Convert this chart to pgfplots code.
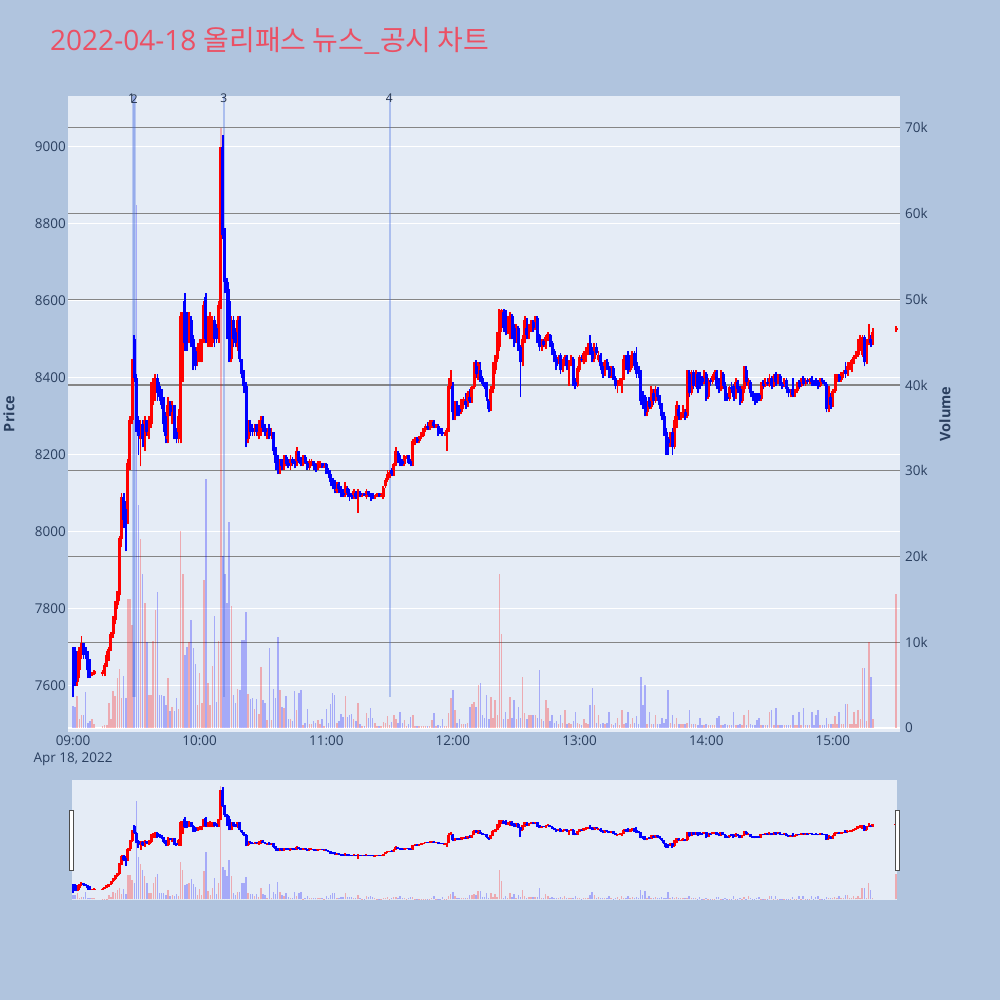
\documentclass[border=0pt]{standalone}
\usepackage{pgfplots}
\usepackage{pgfplotstable}
\pgfplotsset{compat=1.18}
\usepackage{fontspec}
\setmainfont{Open Sans}
\newfontfamily\cjk{Noto Sans CJK KR}
\definecolor{bgc}{HTML}{B0C4DE}
\definecolor{plotbg}{HTML}{E5ECF6}
\definecolor{fontc}{HTML}{2A3F5F}
\definecolor{gridgray}{HTML}{858585}
\definecolor{titlec}{RGB}{235,80,100}
\definecolor{newsc}{RGB}{65,105,225}

\pgfplotstableread{
t o h l c v
0 7700 7700 7570 7620 2.6
1 7690 7700 7600 7610 2.4
2 7610 7690 7600 7680 3.7
3 7640 7700 7620 7690 1.0
4 7680 7730 7670 7710 1.5
5 7710 7710 7670 7680 1.5
6 7700 7700 7670 7680 4.2
7 7680 7690 7620 7640 0.6
8 7660 7670 7620 7630 0.8
9 7630 7636 7626 7635 1.0
10 7630 7640 7628 7638 0.5
14 7630 7640 7625 7636 0.2
15 7630 7660 7625 7655 0.3
16 7655 7690 7650 7680 0.4
17 7675 7700 7665 7695 2.9
18 7700 7740 7690 7735 1.1
19 7735 7780 7725 7770 4.3
20 7770 7820 7760 7810 3.7
21 7810 7845 7800 7835 5.8
22 7835 7990 7820 7985 6.9
23 7980 8100 7960 8090 3.5
24 8090 8100 8010 8030 6.1
25 8060 8080 7950 8020 3.5
26 8030 8190 8020 8180 15
27 8180 8300 8160 8290 15
28 8290 8450 8280 8450 12
29 8500 8510 8390 8400 10
30 8400 8410 8260 8280 61
31 8290 8300 8200 8250 26
32 8240 8290 8170 8280 22
33 8280 8290 8220 8240 18
34 8240 8300 8210 8290 14.6
35 8290 8290 8250 8260 10
36 8250 8300 8240 8280 3.8
37 8280 8390 8270 8380 3.8
38 8340 8400 8330 8380 10.2
39 8370 8410 8340 8400 13.7
40 8400 8410 8340 8360 15.9
41 8380 8390 8340 8350 3.8
42 8360 8370 8320 8330 3.8
43 8340 8350 8260 8280 3.7
44 8300 8310 8230 8250 2.7
45 8240 8350 8230 8330 5.8
46 8330 8340 8300 8310 2.0
47 8300 8340 8280 8330 2.5
48 8330 8330 8240 8250 2.0
49 8260 8270 8230 8240 3.5
50 8240 8320 8230 8300 2.2
51 8240 8570 8230 8560 23
52 8400 8570 8390 8550 18
53 8600 8620 8470 8490 8.5
54 8560 8570 8470 8500 9.4
55 8500 8570 8490 8550 10
56 8550 8560 8480 8500 12.6
57 8500 8510 8420 8440 9.3
58 8470 8480 8420 8430 7.5
59 8440 8490 8430 8480 2.7
60 8450 8500 8440 8490 6.4
61 8470 8500 8440 8500 2.9
62 8500 8600 8490 8590 17.3
63 8610 8620 8490 8500 29
64 8490 8560 8480 8550 5.2
65 8500 8570 8480 8530 2.7
66 8490 8560 8480 8540 7.2
67 8550 8560 8480 8500 13
68 8530 8540 8490 8500 3
69 8500 8600 8490 8590 10.2
70 8590 9000 8580 9000 70
71 9000 9030 8760 8770 20
72 8780 8790 8620 8650 18
73 8650 8660 8500 8520 14.6
74 8600 8630 8440 8450 24
75 8450 8560 8440 8550 14.2
76 8550 8560 8480 8500 3.8
77 8520 8530 8480 8490 2.9
78 8480 8560 8470 8550 4.5
79 8550 8560 8440 8450 4.4
80 8440 8450 8400 8410 10.3
81 8410 8420 8360 8380 10.3
82 8380 8390 8220 8240 13.5
83 8240 8290 8230 8280 4
84 8280 8290 8250 8260 3.4
85 8270 8280 8250 8260 3.5
86 8260 8280 8250 8270 2.2
87 8280 8280 8250 8260 3.4
88 8250 8290 8240 8280 1.6
89 8260 8300 8250 8290 7.1
90 8290 8300 8260 8270 3.3
91 8270 8280 8250 8260 2.9
92 8250 8270 8240 8265 0.9
93 8270 8280 8240 8250 9.3
94 8250 8270 8240 8260 0.9
95 8260 8260 8200 8210 4.6
96 8210 8220 8160 8180 3.5
97 8190 8200 8150 8160 10.6
98 8160 8190 8150 8180 4.4
99 8190 8190 8160 8170 2.5
100 8170 8200 8160 8190 2.3
101 8195 8200 8170 8175 3.7
102 8180 8190 8165 8170 1.1
103 8170 8200 8160 8190 1.0
104 8190 8195 8170 8180 0.8
105 8185 8190 8165 8175 4.3
106 8180 8220 8170 8210 2.1
107 8210 8210 8180 8185 4.1
108 8190 8195 8170 8175 4.4
109 8175 8200 8170 8195 0.3
110 8195 8200 8175 8180 0.6
111 8180 8185 8160 8165 2.2
112 8165 8190 8160 8185 0.5
113 8175 8190 8170 8185 0.5
114 8185 8185 8160 8170 0.8
115 8175 8180 8155 8165 0.6
116 8165 8185 8160 8180 0.9
117 8170 8185 8165 8180 0.5
118 8180 8180 8165 8170 1.0
119 8170 8180 8165 8175 0.2
120 8175 8180 8150 8160 2.2
121 8160 8165 8140 8150 0.6
122 8150 8160 8120 8130 2.8
123 8135 8140 8110 8120 4.1
124 8130 8135 8100 8110 3.8
125 8105 8130 8100 8125 0.6
126 8125 8130 8100 8110 0.8
127 8110 8120 8090 8100 1.6
128 8100 8110 8090 8095 1.3
129 8095 8130 8090 8120 3.7
130 8115 8120 8090 8100 1.3
131 8100 8110 8080 8090 1.5
132 8095 8100 8085 8090 1.6
133 8090 8110 8085 8105 1.0
134 8100 8105 8085 8090 0.8
135 8090 8110 8050 8100 2.9
136 8100 8105 8090 8095 0.5
137 8095 8100 8090 8098 0.2
138 8098 8100 8092 8095 0.2
139 8090 8110 8085 8105 1.7
140 8105 8105 8090 8095 1.2
141 8100 8100 8080 8090 2.3
142 8095 8100 8085 8090 1.2
143 8090 8095 8085 8092 0.6
144 8092 8100 8090 8098 0.2
145 8098 8100 8090 8095 0.2
146 8095 8100 8090 8097 0.2
147 8090 8120 8085 8115 0.7
148 8120 8140 8115 8135 0.6
149 8135 8160 8130 8150 1.4
150 8150 8160 8140 8155 0.3
151 8160 8165 8145 8150 0.7
152 8150 8180 8145 8175 1.5
153 8175 8220 8170 8210 1.1
154 8205 8210 8180 8185 0.6
155 8190 8200 8170 8180 1.9
156 8185 8190 8170 8175 0.6
157 8175 8200 8170 8195 0.9
158 8195 8200 8190 8198 0.2
159 8200 8200 8175 8180 0.5
160 8185 8190 8170 8175 1.3
161 8175 8240 8170 8235 1.5
162 8235 8245 8225 8240 0.2
163 8240 8245 8230 8235 0.2
164 8235 8250 8230 8245 0.2
165 8245 8260 8240 8255 0.2
166 8250 8270 8245 8265 0.2
167 8265 8280 8260 8275 0.2
168 8275 8285 8265 8270 0.2
169 8270 8290 8265 8285 0.2
170 8280 8290 8270 8285 0.9
171 8285 8290 8270 8275 1.7
172 8275 8280 8270 8278 0.2
173 8275 8280 8250 8260 0.4
174 8265 8270 8255 8258 0.2
175 8260 8270 8250 8255 1.1
176 8255 8260 8250 8257 0.2
177 8250 8270 8210 8265 0.2
178 8265 8400 8260 8380 1.7
179 8380 8420 8370 8390 3.5
180 8380 8390 8290 8310 4.4
181 8310 8340 8290 8330 2.1
182 8330 8340 8300 8310 0.6
183 8320 8330 8300 8310 1.0
184 8310 8345 8305 8340 0.5
185 8330 8350 8320 8345 0.5
186 8340 8360 8320 8330 0.5
187 8330 8365 8325 8360 0.6
188 8350 8370 8335 8340 2.5
189 8340 8380 8335 8375 2.8
190 8375 8440 8370 8430 3.0
191 8430 8445 8400 8410 2.5
192 8400 8440 8395 8435 5
193 8420 8440 8390 8400 5.2
194 8400 8405 8380 8385 1.5
195 8385 8390 8370 8375 1.2
196 8380 8390 8340 8350 3.9
197 8340 8345 8310 8320 1.0
198 8320 8380 8315 8370 3.6
199 8370 8440 8360 8430 1.2
200 8420 8460 8410 8450 3.3
201 8450 8520 8440 8510 1.5
202 8480 8580 8470 8570 18
203 8540 8580 8520 8575 11
204 8570 8580 8520 8530 1.0
205 8570 8575 8510 8520 1.9
206 8520 8560 8515 8550 1.0
207 8540 8570 8500 8560 3.6
208 8560 8565 8500 8510 1.2
209 8530 8540 8480 8490 3.3
210 8500 8540 8490 8530 1.0
211 8530 8535 8470 8480 2.5
212 8480 8485 8350 8440 1.2
213 8440 8510 8430 8500 6
214 8500 8560 8490 8550 1.7
215 8530 8555 8500 8510 1.0
216 8510 8540 8500 8530 1.5
217 8530 8550 8520 8545 1.5
218 8545 8550 8520 8530 1.5
219 8530 8560 8525 8555 1.5
220 8555 8560 8490 8500 1.2
221 8510 8515 8470 8480 6.8
222 8480 8500 8470 8490 1.0
223 8495 8500 8480 8485 0.8
224 8480 8510 8475 8505 3.3
225 8500 8520 8495 8515 2.3
226 8510 8515 8480 8490 0.8
227 8490 8495 8460 8470 1.5
228 8470 8475 8440 8450 0.6
229 8450 8460 8420 8430 0.8
230 8440 8460 8435 8455 0.5
231 8460 8465 8410 8420 1.5
232 8420 8450 8415 8445 0.6
233 8440 8460 8430 8455 2.1
234 8455 8460 8420 8430 0.5
235 8430 8445 8380 8440 0.6
236 8440 8460 8430 8450 0.5
237 8450 8455 8380 8390 0.8
238 8390 8400 8370 8380 1.9
239 8380 8430 8375 8425 0.6
240 8420 8460 8415 8455 0.5
241 8450 8460 8440 8445 0.3
242 8440 8470 8435 8465 1.0
243 8460 8480 8440 8470 0.6
244 8470 8490 8460 8480 0.5
245 8490 8510 8460 8470 2.7
246 8470 8480 8440 8450 4.7
247 8450 8490 8440 8480 2.7
248 8480 8490 8460 8465 0.6
249 8445 8470 8440 8460 1.5
250 8460 8465 8420 8430 0.5
251 8430 8440 8400 8410 0.6
252 8410 8445 8405 8440 0.5
253 8440 8450 8420 8425 0.6
254 8425 8430 8400 8405 1.9
255 8405 8430 8400 8425 0.5
256 8425 8430 8395 8400 0.3
257 8400 8405 8370 8380 0.6
258 8380 8395 8360 8390 1.2
259 8390 8400 8380 8395 0.3
260 8380 8400 8360 8395 2.1
261 8400 8460 8395 8450 0.5
262 8450 8460 8420 8430 0.6
263 8460 8470 8410 8420 1.9
264 8420 8460 8415 8455 0.5
265 8430 8470 8425 8465 1.2
266 8465 8470 8420 8430 0.6
267 8440 8480 8400 8410 1.4
268 8420 8430 8400 8410 0.5
269 8410 8420 8330 8340 6
270 8360 8365 8320 8350 2.7
271 8350 8355 8300 8310 5
272 8310 8340 8300 8330 0.5
273 8340 8350 8320 8325 1.9
274 8325 8380 8320 8370 0.5
275 8360 8370 8330 8340 0.5
276 8340 8380 8335 8370 1.5
277 8370 8375 8340 8350 0.5
278 8350 8355 8320 8330 0.5
279 8330 8335 8290 8300 1.2
280 8300 8310 8250 8260 0.6
281 8260 8270 8200 8210 1.0
282 8240 8245 8200 8230 4.4
283 8230 8260 8220 8250 0.6
284 8260 8270 8200 8220 1.5
285 8220 8300 8215 8290 0.5
286 8280 8340 8270 8330 1.2
287 8320 8330 8290 8300 0.5
288 8300 8310 8290 8305 0.5
289 8300 8330 8295 8320 0.5
290 8310 8320 8290 8300 0.5
291 8300 8420 8295 8410 0.6
292 8410 8420 8350 8360 2.1
293 8360 8420 8355 8415 0.5
294 8415 8420 8370 8380 0.5
295 8380 8420 8375 8410 0.5
296 8410 8415 8360 8370 0.3
297 8410 8415 8370 8400 1.2
298 8400 8405 8380 8390 0.3
299 8390 8420 8385 8410 0.3
300 8410 8415 8340 8350 0.5
301 8350 8400 8345 8395 0.3
302 8395 8400 8380 8390 0.3
303 8390 8410 8385 8405 0.3
304 8405 8420 8395 8415 0.3
305 8415 8420 8370 8380 1.2
306 8385 8400 8360 8370 1.4
307 8370 8420 8365 8410 0.3
308 8410 8415 8370 8380 0.3
309 8380 8390 8340 8350 0.5
310 8350 8360 8340 8345 0.3
311 8345 8380 8340 8375 0.3
312 8375 8390 8360 8370 0.3
313 8380 8385 8340 8350 1.9
314 8350 8400 8345 8390 0.3
315 8390 8395 8360 8370 0.3
316 8370 8380 8330 8340 0.5
317 8340 8380 8335 8370 0.3
318 8370 8430 8360 8420 1.5
319 8420 8430 8380 8390 0.3
320 8380 8400 8370 8395 2.1
321 8390 8395 8350 8360 0.5
322 8360 8365 8340 8350 0.3
323 8350 8360 8330 8340 0.3
324 8345 8360 8335 8340 0.9
325 8355 8360 8340 8345 1.2
326 8345 8390 8340 8385 0.3
327 8385 8395 8370 8380 0.3
328 8380 8400 8375 8390 0.3
329 8390 8400 8380 8385 0.3
330 8380 8410 8375 8400 1.9
331 8400 8405 8370 8380 2.1
332 8380 8410 8375 8405 0.3
333 8410 8415 8380 8390 2.3
334 8390 8410 8385 8405 0.3
335 8405 8410 8380 8385 0.3
336 8385 8390 8370 8380 0.3
337 8380 8400 8375 8395 0.3
338 8395 8400 8360 8370 0.3
339 8370 8375 8350 8360 0.3
340 8360 8370 8350 8365 0.3
341 8370 8400 8350 8355 1.5
342 8355 8370 8350 8365 0.3
343 8365 8390 8360 8385 0.3
344 8390 8395 8370 8375 1.9
345 8380 8400 8375 8395 0.3
346 8400 8405 8380 8385 2.3
347 8385 8400 8380 8395 0.3
348 8395 8400 8385 8390 0.3
349 8390 8400 8385 8398 0.3
350 8400 8405 8380 8390 1.9
351 8390 8395 8380 8385 0.3
352 8395 8400 8380 8385 1.5
353 8390 8395 8370 8380 2.1
354 8380 8400 8375 8395 0.3
355 8395 8400 8385 8390 0.3
356 8390 8395 8380 8385 0.3
357 8385 8390 8310 8320 1.2
358 8320 8380 8310 8370 0.5
359 8350 8360 8320 8330 0.5
360 8330 8370 8325 8365 0.5
361 8365 8410 8360 8400 1.4
362 8400 8410 8390 8405 0.5
363 8405 8410 8390 8395 1.9
364 8395 8415 8390 8410 0.5
365 8410 8420 8400 8415 0.5
366 8420 8440 8400 8410 2.8
367 8410 8440 8405 8430 2.8
368 8430 8440 8420 8435 0.5
369 8425 8450 8415 8445 0.5
370 8445 8460 8435 8455 1.9
371 8455 8470 8450 8465 0.5
372 8460 8500 8455 8495 2.1
373 8480 8510 8470 8500 1.0
374 8460 8510 8455 8505 7
375 8505 8510 8430 8440 7
376 8440 8500 8435 8490 0.8
377 8490 8540 8485 8500 10
378 8500 8510 8480 8490 6
379 8490 8530 8485 8520 1.0
390 8525 8535 8520 8530 15.6
}\pricedata

\pgfplotsset{
  errbase/.style={only marks, mark=*, mark size=0pt, mark options={draw=none, fill=none}, forget plot},
}
\newcommand\drawcandles[2]{%
\addplot[errbase, restrict expr to domain={\thisrow{c}-\thisrow{o}}{0:1000000},
  error bars/.cd, y dir=plus, y explicit, error mark=none, error bar style={draw=red, line width=#2}]
  table[x=t, y=l, y error plus expr={\thisrow{h}-\thisrow{l}}] {\pricedata};
\addplot[errbase, restrict expr to domain={\thisrow{c}-\thisrow{o}}{-1000000:-0.001},
  error bars/.cd, y dir=plus, y explicit, error mark=none, error bar style={draw=blue, line width=#2}]
  table[x=t, y=l, y error plus expr={\thisrow{h}-\thisrow{l}}] {\pricedata};
\addplot[errbase, restrict expr to domain={\thisrow{c}-\thisrow{o}}{0:1000000},
  error bars/.cd, y dir=plus, y explicit, error mark=none, error bar style={draw=red, line width=#1}]
  table[x=t, y=o, y error plus expr={\thisrow{c}-\thisrow{o}}] {\pricedata};
\addplot[errbase, restrict expr to domain={\thisrow{c}-\thisrow{o}}{-1000000:-0.001},
  error bars/.cd, y dir=plus, y explicit, error mark=none, error bar style={draw=blue, line width=#1}]
  table[x=t, y=c, y error plus expr={\thisrow{o}-\thisrow{c}}] {\pricedata};
}
\newcommand\drawvolume[1]{%
\addplot[errbase, restrict expr to domain={\thisrow{c}-\thisrow{o}}{0:1000000},
  error bars/.cd, y dir=plus, y explicit, error mark=none, error bar style={draw=red, draw opacity=0.28, line width=#1}]
  table[x=t, y expr=0, y error plus expr={\thisrow{v}}] {\pricedata};
\addplot[errbase, restrict expr to domain={\thisrow{c}-\thisrow{o}}{-1000000:-0.001},
  error bars/.cd, y dir=plus, y explicit, error mark=none, error bar style={draw=blue, draw opacity=0.28, line width=#1}]
  table[x=t, y expr=0, y error plus expr={\thisrow{v}}] {\pricedata};
}

\begin{document}
\begin{tikzpicture}
\fill[bgc] (0pt,0pt) rectangle (1000pt,1000pt);
\node[anchor=base west, inner sep=0pt, text=titlec, font=\fontsize{28}{32}\selectfont] at (50pt,949.5pt) {2022-04-18 {\cjk 올리패스 뉴스\_공시 차트}};

% main price axis (background, grid, ticks)
\begin{axis}[
  at={(68pt,268pt)}, anchor=south west, scale only axis, width=832pt, height=636pt,
  xmin=-2.37, xmax=391.8, ymin=7480, ymax=9132,
  axis background/.style={fill=plotbg},
  axis line style={draw=none}, major tick length=0pt,
  ytick={7600,7800,8000,8200,8400,8600,8800,9000},
  yticklabels={7600,7800,8000,8200,8400,8600,8800,9000},
  ymajorgrids, major grid style={white, line width=1.2pt},
  xtick={0,60,120,180,240,300,360},
  xticklabels={{09:00\\Apr 18, 2022},10:00,11:00,12:00,13:00,14:00,15:00},
  xticklabel style={align=center, inner sep=4pt, font=\fontsize{13.5}{16.5}\selectfont, text=fontc},
  yticklabel style={inner sep=2pt, font=\fontsize{13.5}{16}\selectfont, text=fontc},
  every axis y label/.style={at={(rel axis cs:0,0.5)}, xshift=-59pt, rotate=90, anchor=center, font=\fontsize{14.5}{17}\selectfont\bfseries, text=fontc},
  ylabel={Price},
]
\end{axis}

% volume axis
\begin{axis}[
  at={(68pt,268pt)}, anchor=south west, scale only axis, width=832pt, height=636pt,
  xmin=-2.37, xmax=391.8, ymin=-0.47, ymax=73.7,
  hide x axis, axis y line*=right,
  axis line style={draw=none}, major tick length=0pt,
  ytick={10,20,30,40,50,60,70},
  yticklabels={10k,20k,30k,40k,50k,60k,70k},
  extra y ticks={0}, extra y tick labels={0},
  extra y tick style={major grid style={white, line width=2pt}},
  ymajorgrids, major grid style={gridgray, line width=1.2pt},
  yticklabel style={inner sep=2pt, xshift=3pt, font=\fontsize{13.5}{16}\selectfont, text=fontc},
  every axis y label/.style={at={(rel axis cs:1,0.5)}, xshift=45pt, rotate=90, anchor=center, font=\fontsize{14.5}{17}\selectfont\bfseries, text=fontc},
  ylabel={Volume},
]
\drawvolume{1.5pt}
\end{axis}

% candles + news
\begin{axis}[
  at={(68pt,268pt)}, anchor=south west, scale only axis, width=832pt, height=636pt,
  xmin=-2.37, xmax=391.8, ymin=7480, ymax=9132,
  hide axis, clip mode=individual,
]
\addplot[newsc, opacity=0.28, line width=2.6pt, forget plot] coordinates {(28.6,7571) (28.6,9132)};
\addplot[newsc, opacity=0.28, line width=2.6pt, forget plot] coordinates {(29.1,7571) (29.1,9132)};
\addplot[newsc, opacity=0.35, line width=1.6pt, forget plot] coordinates {(71.5,7571) (71.5,9132)};
\addplot[newsc, opacity=0.35, line width=1.6pt, forget plot] coordinates {(150.2,7571) (150.2,9132)};
\drawcandles{3pt}{1.8pt}
\node[font=\fontsize{12}{14}\selectfont, text=fontc!80!black, inner sep=0pt] at (axis cs:27.7,9125) {1};
\node[font=\fontsize{12}{14}\selectfont, text=fontc!80!black, inner sep=0pt] at (axis cs:29.0,9125) {2};
\node[font=\fontsize{12}{14}\selectfont, text=fontc!80!black, inner sep=0pt] at (axis cs:71.4,9125) {3};
\node[font=\fontsize{12}{14}\selectfont, text=fontc!80!black, inner sep=0pt] at (axis cs:149.8,9125) {4};
\end{axis}

% range slider
\fill[plotbg] (72pt,100pt) rectangle (897pt,220pt);
\begin{axis}[
  at={(72pt,100pt)}, anchor=south west, scale only axis, width=825pt, height=120pt,
  xmin=-0.5, xmax=390.5, ymin=-0.47, ymax=73.7, hide axis,
]
\drawvolume{1.4pt}
\end{axis}
\begin{axis}[
  at={(72pt,100pt)}, anchor=south west, scale only axis, width=825pt, height=120pt,
  xmin=-0.5, xmax=390.5, ymin=7480, ymax=9132, hide axis,
]
\drawcandles{3pt}{2pt}
\end{axis}
\filldraw[fill=white, draw=black!70, line width=0.9pt] (69.5pt,130pt) rectangle (73.5pt,190pt);
\filldraw[fill=white, draw=black!70, line width=0.9pt] (895.5pt,130pt) rectangle (899.5pt,190pt);
\end{tikzpicture}
\end{document}
